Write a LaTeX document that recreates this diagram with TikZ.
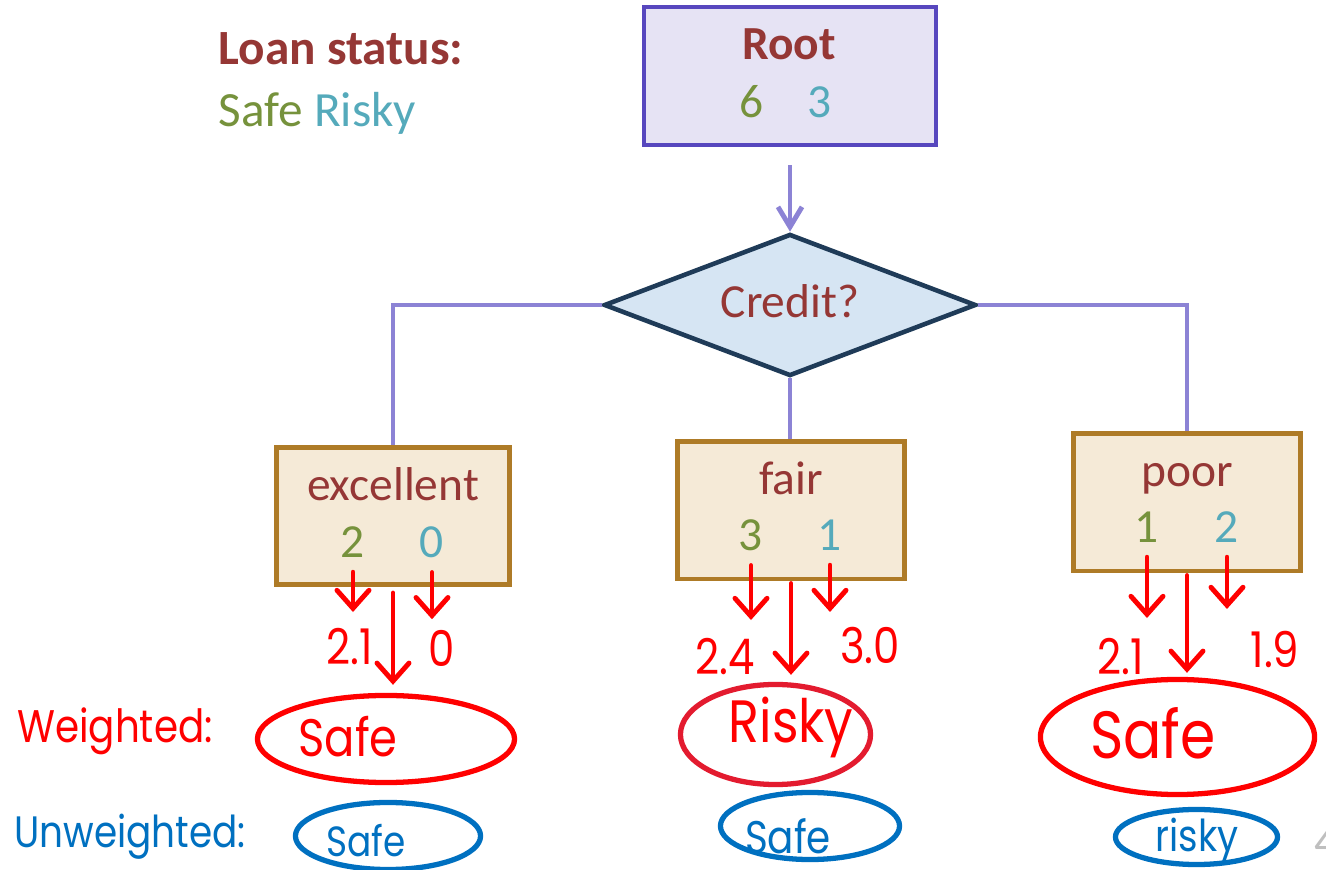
\documentclass[tikz,border=0pt]{standalone}
\usepackage{fontspec}
\setmainfont{Carlito}
\newfontfamily\handfont[FakeStretch=0.85]{Poppins}
\usetikzlibrary{arrows.meta, shapes.geometric}
\definecolor{mPurple}{HTML}{5747BE}
\definecolor{mLavender}{HTML}{E6E3F4}
\definecolor{mLink}{HTML}{8C83D5}
\definecolor{mNavy}{HTML}{1F3B58}
\definecolor{mIce}{HTML}{D6E5F3}
\definecolor{mBrown}{HTML}{AE7B27}
\definecolor{mCream}{HTML}{F5EAD7}
\definecolor{mMaroon}{HTML}{953735}
\definecolor{mOlive}{HTML}{76923C}
\definecolor{mTeal}{HTML}{55AABB}
\definecolor{mRed}{HTML}{FF0000}
\definecolor{mCrimson}{HTML}{E31B2F}
\definecolor{mBlue}{HTML}{0070C0}
\definecolor{mGray}{HTML}{BFBFBF}

\begin{document}
\begin{tikzpicture}[x=0.01cm, y=-0.01cm,
      >={Straight Barb[length=2mm, width=2.4mm]},
      txt/.style={anchor=base, inner sep=0pt, font=\fontsize{13.5}{16}\selectfont},
      title/.style={txt, text=mMaroon},
      num/.style={txt, inner sep=1pt},
      box/.style={rectangle, draw=mBrown, fill=mCream, line width=1.4pt,
                  minimum height=1.37cm},
      conn/.style={draw=mLink, line width=1.4pt},
      pen/.style={draw=mRed, line width=1.4pt, line cap=round, line join=round,
                  -{Straight Barb[length=1.8mm, width=3.2mm, line cap=round]},
                  shorten <=1mm},
      loop/.style={ellipse, draw, line width=1.5pt, inner sep=0pt},
      hand/.style={inner sep=0pt, font=\handfont\fontsize{#1}{#1}\selectfont},
      hand/.default=14]
    \useasboundingbox (0,0) rectangle (1326,870);

    \node[txt, anchor=base west, text=mMaroon, font=\fontsize{14}{16}\selectfont\bfseries]
      (legend) at (218,65) {Loan status:};
    \node[txt, anchor=base west, font=\fontsize{14}{16}\selectfont]
      (classes) at (218,127) {\textcolor{mOlive}{Safe} \textcolor{mTeal}{Risky}};

    \node[rectangle, draw=mPurple, fill=mLavender, line width=1.2pt,
          minimum width=2.92cm, minimum height=1.38cm] (root) at (790,76) {};
    \node[title, font=\fontsize{13.5}{16}\selectfont\bfseries] (root-t) at (789,60) {Root};
    \node[num, text=mOlive] (root-s) at (752,118) {6};
    \node[num, text=mTeal] (root-r) at (820,118) {3};

    \node[diamond, draw=mNavy, fill=mIce, line width=1.3pt, inner sep=0pt,
          minimum width=3.72cm, minimum height=1.42cm] (credit) at (790,305) {};
    \node[title] (credit-t) at (790,318) {Credit?};

    \node[box, minimum width=2.32cm] (exc) at (393,516) {};
    \node[box, minimum width=2.27cm] (fair) at (791,510.5) {};
    \node[box, minimum width=2.26cm] (poor) at (1187,502.5) {};

    \node[title] (exc-t) at (393,501) {excellent};
    \node[num, text=mOlive] (exc-s) at (353,558) {2};
    \node[num, text=mTeal] (exc-r) at (432,558) {0};
    \node[title] (fair-t) at (791,495) {fair};
    \node[num, text=mOlive] (fair-s) at (751,551) {3};
    \node[num, text=mTeal] (fair-r) at (830,551) {1};
    \node[title] (poor-t) at (1187,487) {poor};
    \node[num, text=mOlive] (poor-s) at (1147,543) {1};
    \node[num, text=mTeal] (poor-r) at (1227,543) {2};

    \draw[conn, ->, shorten <=1.8mm] (root) -- (credit);
    \draw[conn] (credit.west) -| (exc.north);
    \draw[conn] (credit.south) -- (credit.south |- fair.north);
    \draw[conn] (credit.east) -| (poor.north);

    \node[hand, text=mRed] (exc-ws) at (350,647) {2.1};
    \node[hand, text=mRed] (exc-wr) at (442,648) {0};
    \node[hand, text=mRed] (fair-ws) at (725,657) {2.4};
    \node[hand, text=mRed] (fair-wr) at (870,646) {3.0};
    \node[hand, text=mRed] (poor-ws) at (1121,657) {2.1};
    \node[hand, text=mRed] (poor-wr) at (1275,650) {1.9};

    \node[loop, draw=mRed, minimum width=2.57cm, minimum height=0.87cm] (exc-w) at (386,739) {};
    \node[loop, draw=mCrimson, minimum width=1.90cm, minimum height=1.00cm] (fair-w) at (775.5,734.5) {};
    \node[loop, draw=mRed, minimum width=2.74cm, minimum height=1.15cm] (poor-w) at (1177.5,737) {};
    \node[loop, draw=mBlue, minimum width=1.85cm, minimum height=0.67cm] (exc-u) at (388,836) {};
    \node[loop, draw=mBlue, minimum width=1.79cm, minimum height=0.67cm] (fair-u) at (810,826) {};
    \node[loop, draw=mBlue, minimum width=1.62cm, minimum height=0.55cm] (poor-u) at (1196.5,837) {};

    \draw[pen, shorten >=1.6mm] (exc-s.south) -- (exc-s.south |- exc-ws.north);
    \draw[pen, shorten >=1mm] (exc-r.south) -- (exc-r.south |- exc-wr.north);
    \draw[pen, shorten <=0.6mm, shorten >=0.8mm] (exc.south) -- (exc.south |- exc-w.north);
    \draw[pen, shorten >=1.8mm] (fair-s.south) -- (fair-s.south |- fair-ws.north);
    \draw[pen, shorten >=1.5mm] (fair-r.south) -- (fair-r.south |- fair-wr.north);
    \draw[pen, shorten <=0.2mm, shorten >=0.7mm] (fair.south) -- (fair.south |- fair-w.north);
    \draw[pen, shorten >=2mm] (poor-s.south) -- (poor-s.south |- poor-ws.north);
    \draw[pen, shorten >=2.2mm] (poor-r.south) -- (poor-r.south |- poor-wr.north);
    \draw[pen, shorten <=0.2mm, shorten >=0.4mm] (poor.south) -- (poor.south |- poor-w.north);

    \node[hand=15, text=mRed] (exc-wt) at (348,737) {Safe};
    \node[hand=17, text=mRed] (fair-wt) at (791,727) {Risky};
    \node[hand=19, text=mRed] (poor-wt) at (1153,733) {Safe};
    \node[hand=12, text=mBlue] (exc-ut) at (366,841) {Safe};
    \node[hand=13, text=mBlue] (fair-ut) at (788,836) {Safe};
    \node[hand=12.5, text=mBlue] (poor-ut) at (1197,840) {risky};

    \node[hand=13, text=mRed, anchor=base] (weighted) at (115,743) {Weighted:};
    \node[hand=12.5, text=mBlue, anchor=base] (unweighted) at (130,848) {Unweighted:};

    \node[txt, anchor=base west, text=mGray] (page) at (1314,857) {4};
\end{tikzpicture}
\end{document}
